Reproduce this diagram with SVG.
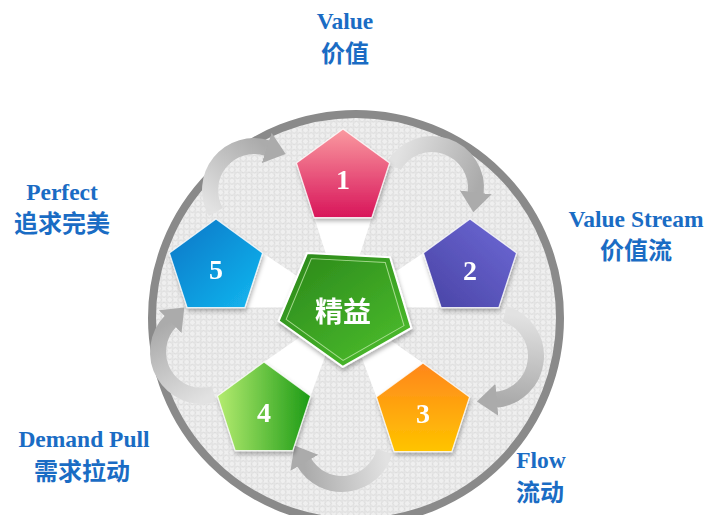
<svg xmlns="http://www.w3.org/2000/svg" width="715" height="515" viewBox="0 0 715 515">
<style>
.lbl-en{font-family:"Liberation Serif","Times New Roman",serif;font-weight:700;font-size:23.5px;fill:#1a6cc4;text-anchor:middle}
.lbl-zh{font-family:"Noto Sans CJK SC","Noto Sans",sans-serif;font-weight:700;font-size:24px;fill:#1a6cc4;text-anchor:middle}
.num{font-family:"Liberation Serif","Times New Roman",serif;font-weight:700;font-size:28px;fill:#ffffff;text-anchor:middle}
.arc{fill:none;stroke-width:16}
.pent{stroke:#ffffff;stroke-width:1.2;stroke-opacity:0.8}
.ray{fill:#ffffff}
</style>
<defs>
<pattern id="net" width="8" height="8" patternUnits="userSpaceOnUse" patternTransform="rotate(45)">
<rect width="8" height="8" fill="#efefef"/>
<circle cx="4" cy="4" r="3.2" fill="none" stroke="#d8d8d8" stroke-width="1"/>
</pattern>
<filter id="sh" x="-30%" y="-30%" width="160%" height="170%">
<feDropShadow dx="1" dy="3" stdDeviation="2" flood-color="#000" flood-opacity="0.3"/>
</filter>
<marker id="head" markerUnits="userSpaceOnUse" markerWidth="22" markerHeight="34" viewBox="0 -17 22 34" refX="1" refY="0" orient="auto">
<path d="M0,-16 L20,0 L0,16 Z" fill="#ababab"/>
</marker>
<path id="pg" d="M0,-49 L46.6,-15.1 L28.8,39.6 L-28.8,39.6 L-46.6,-15.1 Z"/>
<linearGradient id="g1" x1="0" y1="0" x2="0" y2="1"><stop offset="0" stop-color="#fa9aa0"/><stop offset="1" stop-color="#d8155a"/></linearGradient>
<linearGradient id="g2" x1="1" y1="0" x2="0" y2="1"><stop offset="0" stop-color="#6e69d6"/><stop offset="1" stop-color="#4843a4"/></linearGradient>
<linearGradient id="g3" x1="0" y1="0" x2="0" y2="1"><stop offset="0" stop-color="#ff861c"/><stop offset="1" stop-color="#ffc400"/></linearGradient>
<linearGradient id="g4" x1="0" y1="0" x2="1" y2="0"><stop offset="0" stop-color="#b5ec70"/><stop offset="1" stop-color="#1c9b15"/></linearGradient>
<linearGradient id="g5" x1="0" y1="0" x2="1" y2="1"><stop offset="0" stop-color="#0775c6"/><stop offset="1" stop-color="#14b8f0"/></linearGradient>
<linearGradient id="gc" x1="0" y1="0" x2="1" y2="1"><stop offset="0" stop-color="#2a861a"/><stop offset="1" stop-color="#4fc22e"/></linearGradient>
<linearGradient id="a12" gradientUnits="userSpaceOnUse" x1="394" y1="166" x2="476" y2="193"><stop offset="0" stop-color="#e2e2e2"/><stop offset="1" stop-color="#ababab"/></linearGradient>
<linearGradient id="a23" gradientUnits="userSpaceOnUse" x1="505" y1="314" x2="496" y2="400"><stop offset="0" stop-color="#e2e2e2"/><stop offset="1" stop-color="#ababab"/></linearGradient>
<linearGradient id="a34" gradientUnits="userSpaceOnUse" x1="385" y1="451" x2="304" y2="462"><stop offset="0" stop-color="#e2e2e2"/><stop offset="1" stop-color="#ababab"/></linearGradient>
<linearGradient id="a45" gradientUnits="userSpaceOnUse" x1="214" y1="394" x2="171" y2="321"><stop offset="0" stop-color="#e2e2e2"/><stop offset="1" stop-color="#ababab"/></linearGradient>
<linearGradient id="a51" gradientUnits="userSpaceOnUse" x1="216" y1="212" x2="268" y2="148"><stop offset="0" stop-color="#e2e2e2"/><stop offset="1" stop-color="#ababab"/></linearGradient>
</defs>

<g id="ring">
<circle cx="356" cy="318" r="204" fill="url(#net)" stroke="#8a8a8a" stroke-width="8"/>
</g>

<g id="rays">
<polygon class="ray" points="314.2,217.6 371.8,217.6 343,307"/>
<polygon class="ray" points="423.4,252.9 441.2,307.6 343,307"/>
<polygon class="ray" points="376.4,396.9 423,363 343,307"/>
<polygon class="ray" points="264,362 310.6,395.9 343,307"/>
<polygon class="ray" points="262.6,252.9 244.8,307.6 343,307"/>
</g>

<g id="connectors">
<path class="arc" stroke="url(#a12)" marker-end="url(#head)" d="M393.9,166 A44,44 0 0 1 475.67,193.36"/>
<path class="arc" stroke="url(#a23)" marker-end="url(#head)" d="M504.86,313.92 A44,44 0 0 1 495.84,399.83"/>
<path class="arc" stroke="url(#a34)" marker-end="url(#head)" d="M384.5,451.4 A44,44 0 0 1 303.9,462"/>
<path class="arc" stroke="url(#a45)" marker-end="url(#head)" d="M214.1,394.3 A44,44 0 0 1 170.9,320.9"/>
<path class="arc" stroke="url(#a51)" marker-end="url(#head)" d="M215.9,212 A44,44 0 0 1 267.6,148.2"/>
</g>

<g id="node-1" filter="url(#sh)">
<use href="#pg" class="pent" fill="url(#g1)" transform="translate(343,178)"/>
<text class="num" x="343" y="189">1</text>
</g>
<g id="node-2" filter="url(#sh)">
<use href="#pg" class="pent" fill="url(#g2)" transform="translate(470,268)"/>
<text class="num" x="470" y="280">2</text>
</g>
<g id="node-3" filter="url(#sh)">
<use href="#pg" class="pent" fill="url(#g3)" transform="translate(423,412)"/>
<text class="num" x="423" y="423">3</text>
</g>
<g id="node-4" filter="url(#sh)">
<use href="#pg" class="pent" fill="url(#g4)" transform="translate(264,411)"/>
<text class="num" x="264" y="422">4</text>
</g>
<g id="node-5" filter="url(#sh)">
<use href="#pg" class="pent" fill="url(#g5)" transform="translate(216,268)"/>
<text class="num" x="216" y="279">5</text>
</g>

<g id="node-center" filter="url(#sh)">
<g transform="translate(346,305) rotate(3)">
<path d="M-41.5,-50 L41.5,-50 L66.5,19.5 L0,62 L-66.5,19.5 Z" fill="url(#gc)" stroke="#ffffff" stroke-width="2"/>
<path d="M-37,-44.5 L37,-44.5 L59,17.5 L0,55.5 L-59,17.5 Z" fill="none" stroke="#bfe8a8" stroke-width="1" stroke-opacity="0.8"/>
</g>
<text x="343" y="322" font-family="Noto Sans CJK SC, Noto Sans, sans-serif" font-weight="700" font-size="28" fill="#ffffff" text-anchor="middle">精益</text>
</g>

<g id="label-value">
<text class="lbl-en" x="345" y="29">Value</text>
<text class="lbl-zh" x="345" y="62">价值</text>
</g>
<g id="label-stream">
<text class="lbl-en" x="636" y="227">Value Stream</text>
<text class="lbl-zh" x="636" y="259">价值流</text>
</g>
<g id="label-flow">
<text class="lbl-en" x="541" y="468">Flow</text>
<text class="lbl-zh" x="540" y="501">流动</text>
</g>
<g id="label-pull">
<text class="lbl-en" x="84" y="447">Demand Pull</text>
<text class="lbl-zh" x="82" y="480">需求拉动</text>
</g>
<g id="label-perfect">
<text class="lbl-en" x="62" y="200">Perfect</text>
<text class="lbl-zh" x="62" y="232">追求完美</text>
</g>
</svg>
